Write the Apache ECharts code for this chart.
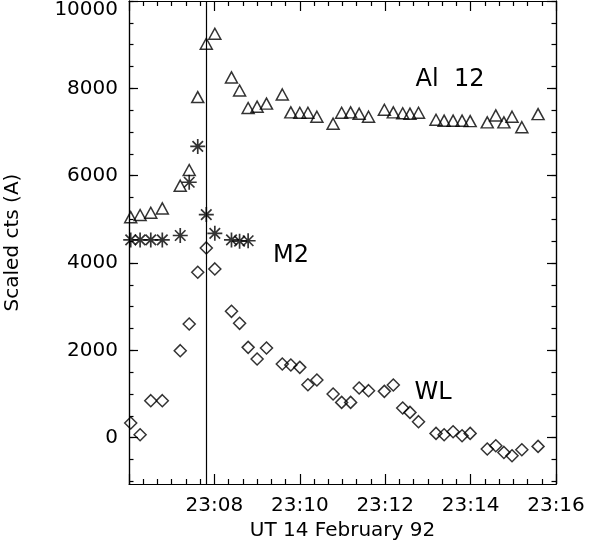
<!DOCTYPE html>
<html>
<head>
<meta charset="utf-8">
<script src="https://cdn.jsdelivr.net/npm/echarts@6/dist/echarts.min.js"></script>
<style>
  html, body { margin: 0; padding: 0; background: #fff; }
  #chart { width: 590px; height: 555px; }
</style>
</head>
<body>
<div id="chart"></div>
<script>
// sample times, minutes after 23:00 UT
const minutes = [6.04, 6.26, 6.51, 6.78, 7.20, 7.41, 7.61, 7.81, 8.01, 8.40,
  8.59, 8.79, 9.00, 9.22, 9.59, 9.79, 10.00, 10.19, 10.40, 10.78,
  10.98, 11.19, 11.39, 11.61, 11.98, 12.19, 12.41, 12.58, 12.78, 13.19,
  13.38, 13.59, 13.80, 13.99, 14.39, 14.59, 14.78, 14.97, 15.20, 15.58]

const al12 = [5050, 5100, 5150, 5250, 5770, 6130, 7800, 9020, 9250, 8250,
  7950, 7550, 7580, 7650, 7860, 7450, 7440, 7440, 7350, 7190,
  7440, 7450, 7420, 7350, 7510, 7450, 7430, 7420, 7440, 7280,
  7260, 7260, 7260, 7250, 7220, 7380, 7220, 7350, 7110, 7410]

const wl = [336, 69, 848, 848, 1993, 2604, 3788, 4346, 3865, 2894,
  2619, 2069, 1803, 2055, 1688, 1665, 1611, 1214, 1322, 1001,
  809, 809, 1139, 1077, 1061, 1207, 680, 580, 367, 99,
  69, 137, 46, 99, -259, -183, -337, -412, -275, -199]

// M2 only covers the first 12 samples
const m2 = [4530, 4530, 4530, 4530, 4630, 5850, 6670, 5110, 4680, 4530, 4500, 4510]

const yLabels = [0, 2000, 4000, 6000, 8000, 10000]
const xLabels = [8, 10, 12, 14, 16]
const peakTime = 7.80

const yMin = -1060
const yMax = 10000
const yMinor = []
for (let v = -1000; v <= yMax; v += 500) yMinor.push(v)

const font = 'DejaVu Sans'
const ink = '#000'

const chart = echarts.init(document.getElementById('chart'))

function xAxisCfg(pos, withLabels) {
  return {
    type: 'value',
    position: pos,
    min: 6,
    max: 16,
    interval: 2,
    axisLine: { show: true, onZero: false, lineStyle: { color: ink, width: 1.2 } },
    axisTick: { show: true, inside: true, length: 10, lineStyle: { color: ink, width: 1.2 } },
    minorTick: { show: true, splitNumber: 6, length: 5, lineStyle: { color: ink, width: 1.2 } },
    splitLine: { show: false },
    axisLabel: withLabels ? {
      show: true,
      margin: 12,
      color: ink,
      fontFamily: font,
      fontSize: 20,
      customValues: xLabels,
      formatter: v => '23:' + String(v).padStart(2, '0')
    } : { show: false },
    name: withLabels ? 'UT 14 February 92' : '',
    nameLocation: 'middle',
    nameGap: 30,
    nameTextStyle: { color: ink, fontFamily: font, fontSize: 20, verticalAlign: 'top' }
  }
}

function yAxisCfg(pos, ticks, len, withLabels) {
  return {
    type: 'value',
    position: pos,
    min: yMin,
    max: yMax,
    axisLine: { show: true, onZero: false, lineStyle: { color: ink, width: 1.2 } },
    axisTick: { show: true, inside: true, length: len, customValues: ticks, lineStyle: { color: ink, width: 1.2 } },
    splitLine: { show: false },
    axisLabel: withLabels ? {
      show: true,
      margin: 11,
      color: ink,
      fontFamily: font,
      fontSize: 20,
      customValues: yLabels,
      formatter: v => v === yMax ? '{top|' + v + '}' : String(v),
      rich: { top: { fontFamily: font, fontSize: 20, color: ink, padding: [17, 0, 0, 0] } }
    } : { show: false },
    name: withLabels ? 'Scaled cts (A)' : '',
    nameLocation: 'middle',
    nameGap: 106,
    nameTextStyle: { color: ink, fontFamily: font, fontSize: 20 }
  }
}

const hollow = { color: 'rgba(0,0,0,0)', borderColor: ink, borderWidth: 1.5 }
const asterisk = 'path://M6,0L6,12M0,6L12,6M1.8,1.8L10.2,10.2M1.8,10.2L10.2,1.8'

chart.setOption({
  animation: false,
  grid: { left: 129, right: 34, top: 1, bottom: 71, outerBoundsMode: 'none', containLabel: false },
  xAxis: [xAxisCfg('bottom', true), xAxisCfg('top', false)],
  yAxis: [
    yAxisCfg('left', yLabels, 9, true),
    yAxisCfg('left', yMinor, 4.5, false),
    yAxisCfg('right', yLabels, 9, false),
    yAxisCfg('right', yMinor, 4.5, false)
  ],
  series: [
    {
      name: 'Al 12',
      type: 'scatter',
      symbol: 'triangle',
      symbolSize: [12, 11],
      itemStyle: hollow,
      emphasis: { disabled: true },
      data: minutes.map((t, i) => [t, al12[i]]),
      markLine: {
        silent: true,
        symbol: 'none',
        label: { show: false },
        lineStyle: { color: ink, width: 1.2, type: 'solid' },
        data: [{ xAxis: peakTime }]
      }
    },
    {
      name: 'M2',
      type: 'scatter',
      symbol: asterisk,
      symbolSize: 15,
      itemStyle: { color: 'rgba(0,0,0,0)', borderColor: ink, borderWidth: 1.7 },
      emphasis: { disabled: true },
      data: m2.map((v, i) => [minutes[i], v])
    },
    {
      name: 'WL',
      type: 'scatter',
      symbol: 'diamond',
      symbolSize: [12, 12],
      itemStyle: hollow,
      emphasis: { disabled: true },
      data: minutes.map((t, i) => [t, wl[i]])
    }
  ],
  graphic: [
    { type: 'text', x: 450, y: 80, style: { text: 'Al  12', font: '24px "DejaVu Sans"', fill: ink, align: 'center', verticalAlign: 'middle' } },
    { type: 'text', x: 291, y: 256, style: { text: 'M2', font: '24px "DejaVu Sans"', fill: ink, align: 'center', verticalAlign: 'middle' } },
    { type: 'text', x: 433, y: 393, style: { text: 'WL', font: '24px "DejaVu Sans"', fill: ink, align: 'center', verticalAlign: 'middle' } }
  ]
})
</script>
</body>
</html>
